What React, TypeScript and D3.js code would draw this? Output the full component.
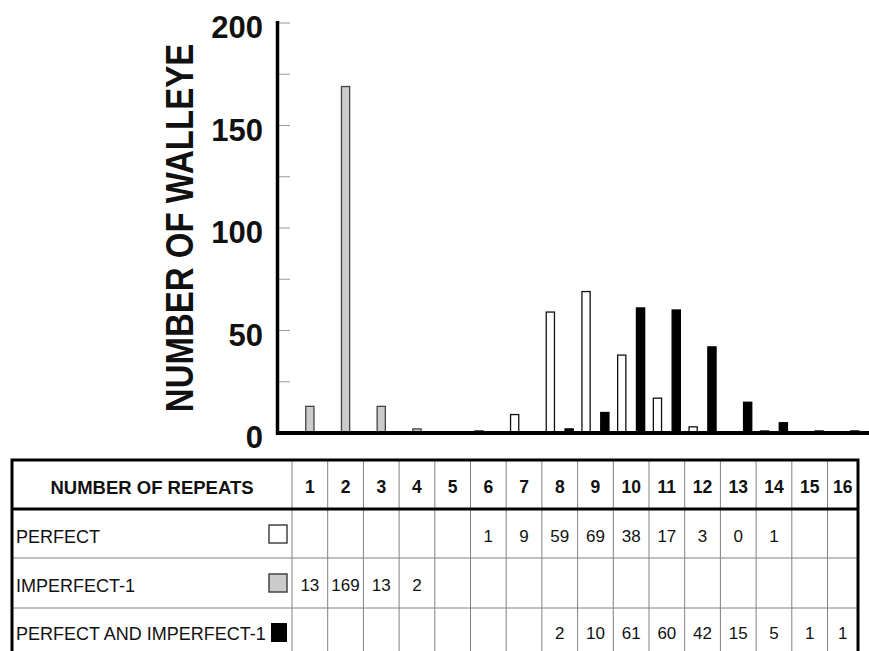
import React from "react";
import * as d3 from "d3";

const repeats = [1, 2, 3, 4, 5, 6, 7, 8, 9, 10, 11, 12, 13, 14, 15, 16];
const perfect: (number | null)[] = [null, null, null, null, null, 1, 9, 59, 69, 38, 17, 3, 0, 1, null, null];
const imperfect1: (number | null)[] = [13, 169, 13, 2, null, null, null, null, null, null, null, null, null, null, null, null];
const perfectAndImperfect1: (number | null)[] = [null, null, null, null, null, null, null, 2, 10, 61, 60, 42, 15, 5, 1, 1];
const yTicks = [0, 50, 100, 150, 200];
const yMinorTicks = [25, 50, 75, 100, 125, 150, 175, 200];
const seriesNames = ["PERFECT", "IMPERFECT-1", "PERFECT AND IMPERFECT-1"];

const W = 869;
const H = 651;
const FONT = "'Liberation Sans', Arial, Helvetica, sans-serif";

const seriesStyle = [
  { fill: "#ffffff", stroke: "#111111" },
  { fill: "#cbcbcb", stroke: "#444444" },
  { fill: "#000000", stroke: "#000000" },
];

export default function App() {
  const x = d3.scaleBand<number>().domain(repeats).range([292, 292 + 16 * 35.7]).padding(0);
  const inner = d3.scaleBand<number>().domain([0, 1, 2]).range([-14.1, 14.1]).padding(0);
  const y = d3.scaleLinear().domain([0, 200]).range([433, 23]);
  const allSeries = [perfect, imperfect1, perfectAndImperfect1];

  const tableLeft = 12;
  const tableRight = 858;
  const tableTop = 460;
  const headerBottom = 509;
  const rowLines = [509, 558, 608, 657];
  const labelColRight = 292;
  const rowBaselines = [542, 591, 639];
  const legendY = [525, 574, 623];

  const bars: React.ReactNode[] = [];
  allSeries.forEach((vals, si) => {
    vals.forEach((v, i) => {
      if (v === null || v === 0) return;
      const cx = (x(repeats[i]) as number) + x.bandwidth() / 2;
      const bx = cx + (inner(si) as number) + 0.6;
      const bw = inner.bandwidth() - 1.2;
      const top = y(v);
      const bottom = y(0);
      bars.push(
        <rect
          key={`b-${si}-${i}`}
          x={bx}
          y={top}
          width={bw}
          height={Math.max(0, bottom - top)}
          fill={seriesStyle[si].fill}
          stroke={seriesStyle[si].stroke}
          strokeWidth={1.3}
        />
      );
    });
  });

  const colBounds = repeats.map((r) => {
    const x0 = x(r) as number;
    const x1 = Math.min(x0 + x.bandwidth(), tableRight);
    return [x0, x1];
  });

  return (
    <svg
      width={W}
      height={H}
      style={{ position: "absolute", left: 0, top: 0, background: "#fff" }}
      fontFamily={FONT}
    >
      <rect x={0} y={0} width={W} height={H} fill="#fff" />
      {yMinorTicks.map((t) => (
        <line key={`mt-${t}`} x1={279} x2={290} y1={y(t)} y2={y(t)} stroke="#9a9a9a" strokeWidth={1} />
      ))}
      {bars}
      <line x1={277.5} x2={277.5} y1={21} y2={435} stroke="#000" strokeWidth={3.5} />
      <line x1={276} x2={869} y1={433} y2={433} stroke="#000" strokeWidth={4} />
      {yTicks.map((t) => (
        <text
          key={`yt-${t}`}
          x={263}
          y={y(t) + 15}
          textAnchor="end"
          fontSize={31}
          fontWeight="bold"
          fill="#111"
        >
          {t}
        </text>
      ))}
      <text
        transform={`translate(193,228) rotate(-90) scale(0.868,1)`}
        textAnchor="middle"
        fontSize={38}
        fontWeight="bold"
        fill="#111"
      >
        NUMBER OF WALLEYE
      </text>

      {rowLines.slice(1, 3).map((ly) => (
        <line key={`rl-${ly}`} x1={tableLeft} x2={tableRight} y1={ly} y2={ly} stroke="#808080" strokeWidth={1} />
      ))}
      <line x1={labelColRight} x2={labelColRight} y1={tableTop} y2={660} stroke="#808080" strokeWidth={1} />
      {colBounds.slice(0, 15).map(([, x1], i) => (
        <line key={`cl-${i}`} x1={x1} x2={x1} y1={tableTop} y2={660} stroke="#808080" strokeWidth={1} />
      ))}
      <line x1={tableLeft} x2={tableRight} y1={headerBottom} y2={headerBottom} stroke="#000" strokeWidth={3} />
      <rect
        x={tableLeft}
        y={tableTop}
        width={tableRight - tableLeft}
        height={657 - tableTop}
        fill="none"
        stroke="#000"
        strokeWidth={3}
      />

      <text x={152} y={494} textAnchor="middle" fontSize={18.5} fontWeight="bold" fill="#111">
        NUMBER OF REPEATS
      </text>
      {repeats.map((r, i) => (
        <text
          key={`h-${r}`}
          x={(colBounds[i][0] + colBounds[i][1]) / 2}
          y={493}
          textAnchor="middle"
          fontSize={17.5}
          fontWeight="bold"
          fill="#111"
        >
          {r}
        </text>
      ))}

      {seriesNames.map((name, si) => (
        <g key={`row-${si}`}>
          <text x={16} y={rowBaselines[si] + 1} fontSize={18} fill="#111">
            {name}
          </text>
          {si < 2 ? (
            <rect
              x={269}
              y={legendY[si]}
              width={18}
              height={18}
              fill={seriesStyle[si].fill}
              stroke="#444"
              strokeWidth={1.5}
            />
          ) : (
            <rect x={271} y={legendY[si]} width={16} height={19} fill="#000" />
          )}
          {allSeries[si].map((v, i) =>
            v === null ? null : (
              <text
                key={`v-${si}-${i}`}
                x={(colBounds[i][0] + colBounds[i][1]) / 2}
                y={rowBaselines[si]}
                textAnchor="middle"
                fontSize={17}
                fill="#111"
              >
                {v}
              </text>
            )
          )}
        </g>
      ))}
    </svg>
  );
}
